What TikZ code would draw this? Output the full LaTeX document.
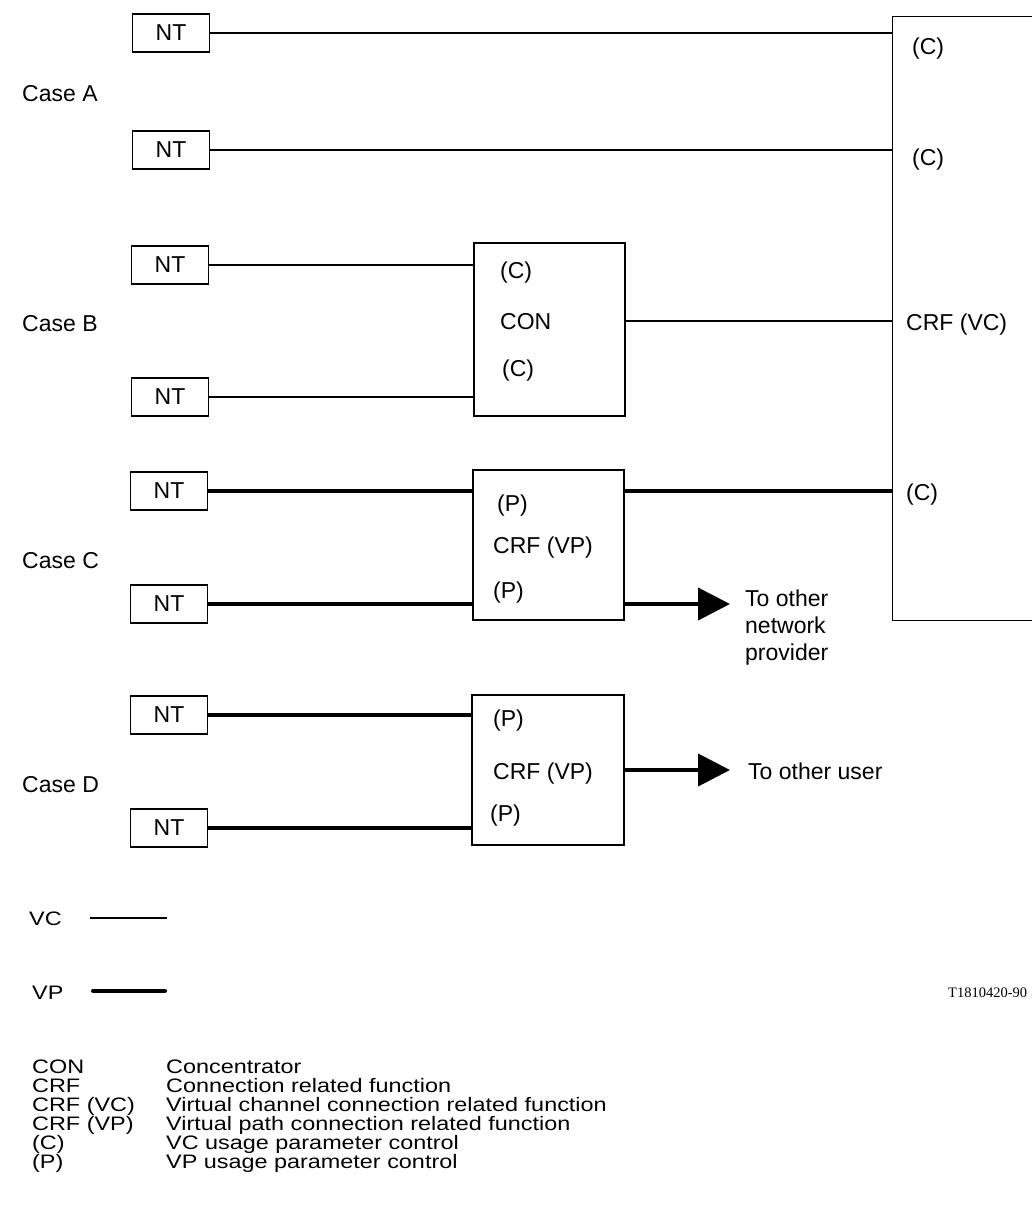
\documentclass[tikz,border=0pt]{standalone}
\usepackage{fontspec}
\setmainfont{Liberation Sans}
\newfontfamily\legfont[FakeStretch=1.2]{Liberation Sans}
\newfontfamily\idfont{Liberation Serif}
\usetikzlibrary{arrows.meta}
\begin{document}
\begin{tikzpicture}[x=1pt,y=-1pt,
  box/.style={draw, line width=1.4pt, inner sep=0pt},
  ntbox/.style={box, minimum width=77pt, minimum height=38pt, font=\fontsize{23}{27}\selectfont},
  lbl/.style={anchor=base west, inner sep=0pt, font=\fontsize{23}{27}\selectfont},
  leg/.style={anchor=base west, inner sep=0pt, font=\legfont\fontsize{19.5}{22}\selectfont},
  vc/.style={line width=1.4pt},
  vp/.style={line width=4pt},
  vparrow/.style={line width=4pt, -{Triangle[length=32pt,width=32pt]}}]
\useasboundingbox (0,0) rectangle (1031,1215);

% NT boxes
\node[ntbox] (a1) at (171,33) {NT};
\node[ntbox] (a2) at (171,150) {NT};
\node[ntbox] (b1) at (170,265) {NT};
\node[ntbox] (b2) at (170,397) {NT};
\node[ntbox] (c1) at (169,491) {NT};
\node[ntbox] (c2) at (169,604) {NT};
\node[ntbox] (d1) at (169,715) {NT};
\node[ntbox] (d2) at (169,828) {NT};

% function boxes
\node[box, minimum width=170pt, minimum height=604pt, anchor=north west] (crf) at (892,16) {};
\node[box, minimum width=151pt, minimum height=173pt] (con) at (549.5,329.5) {};
\node[box, minimum width=151pt, minimum height=150pt] (vpc) at (548.5,545) {};
\node[box, minimum width=152pt, minimum height=150pt] (vpd) at (548,770) {};

% case labels
\node[lbl] (casea) at (22,101) {Case A};
\node[lbl] (caseb) at (22,331) {Case B};
\node[lbl] (casec) at (22,568) {Case C};
\node[lbl] (cased) at (22,792) {Case D};

% labels in CRF (VC)
\node[lbl] (crfc1) at (912,55) {(C)};
\node[lbl] (crfc2) at (912,165) {(C)};
\node[lbl] (crfvc) at (906,330) {CRF (VC)};
\node[lbl] (crfc3) at (906,500) {(C)};

% labels in CON
\node[lbl] (conc1) at (500,278) {(C)};
\node[lbl] (conlbl) at (500,329) {CON};
\node[lbl] (conc2) at (502,376) {(C)};

% labels in CRF (VP) case C
\node[lbl] (vpcp1) at (497,511) {(P)};
\node[lbl] (vpclbl) at (493,553) {CRF (VP)};
\node[lbl] (vpcp2) at (493,598) {(P)};

% labels in CRF (VP) case D
\node[lbl] (vpdp1) at (493,726) {(P)};
\node[lbl] (vpdlbl) at (493,779) {CRF (VP)};
\node[lbl] (vpdp2) at (490,821) {(P)};

% destinations
\node[lbl] (tonet1) at (745,606) {To other};
\node[lbl] (tonet2) at (745,633) {network};
\node[lbl] (tonet3) at (745,660) {provider};
\node[lbl] (touser) at (748,779) {To other user};

% connectors: case A
\draw[vc] (a1.east) -- (a1.east -| crf.west);
\draw[vc] (a2.east) -- (a2.east -| crf.west);
% case B
\draw[vc] (b1.east) -- (b1.east -| con.west);
\draw[vc] (b2.east) -- (b2.east -| con.west);
\draw[vc] (con.east |- conlbl.west) -- (crf.west |- conlbl.west);
% case C
\draw[vp] (c1.east) -- (c1.east -| vpc.west);
\draw[vp] (c2.east) -- (c2.east -| vpc.west);
\draw[vp] (vpc.east |- c1.east) -- (crf.west |- c1.east);
\draw[vparrow, shorten >=15pt] (vpc.east |- c2.east) -- (tonet1.west |- c2.east);
% case D
\draw[vp] (d1.east) -- (d1.east -| vpd.west);
\draw[vp] (d2.east) -- (d2.east -| vpd.west);
\draw[vparrow, shorten >=18pt] (vpd.east) -- (vpd.east -| touser.west);

% line legend
\node[leg] (vclbl) at (29,925) {VC};
\coordinate (vcs) at (90,918);
\coordinate (vce) at (167,918);
\draw[vc] (vcs) -- (vce);
\node[leg] (vplbl) at (32,999) {VP};
\coordinate (vps) at (93,991);
\coordinate (vpe) at (165,991);
\draw[vp, line cap=round] (vps) -- (vpe);

% figure id
\node[anchor=base west, inner sep=0pt, font=\idfont\fontsize{14.5}{18}\selectfont] (figid) at (948,997) {T1810420-90};

% abbreviations
\node[leg] (ab1) at (32,1073) {CON};
\node[leg] (ab2) at (32,1092) {CRF};
\node[leg] (ab3) at (32,1111) {CRF (VC)};
\node[leg] (ab4) at (32,1130) {CRF (VP)};
\node[leg] (ab5) at (32,1149) {(C)};
\node[leg] (ab6) at (32,1168) {(P)};
\node[leg] (de1) at (166,1073) {Concentrator};
\node[leg] (de2) at (166,1092) {Connection related function};
\node[leg] (de3) at (166,1111) {Virtual channel connection related function};
\node[leg] (de4) at (166,1130) {Virtual path connection related function};
\node[leg] (de5) at (166,1149) {VC usage parameter control};
\node[leg] (de6) at (166,1168) {VP usage parameter control};
\end{tikzpicture}
\end{document}
